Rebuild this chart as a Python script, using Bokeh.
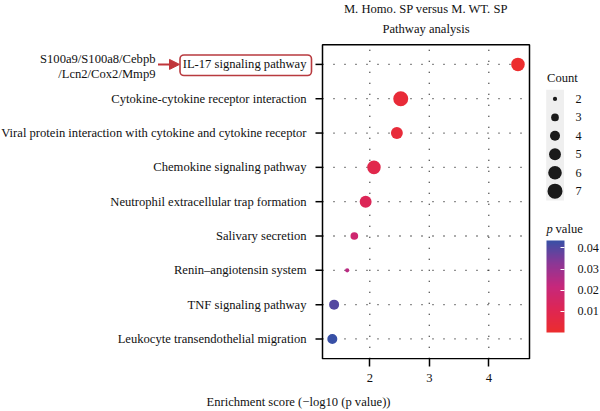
import numpy as np
from bokeh.plotting import figure
from bokeh.models import (ColumnDataSource, Range1d, FixedTicker, Arrow,
                          NormalHead, BoxAnnotation, LinearColorMapper, ColorBar)
from bokeh.layouts import row
from bokeh.core.properties import value
from bokeh.embed import file_html
from bokeh.resources import INLINE

# ---------------- data ----------------
pathways = [
    "IL-17 signaling pathway",
    "Cytokine-cytokine receptor interaction",
    "Viral protein interaction with cytokine and cytokine receptor",
    "Chemokine signaling pathway",
    "Neutrophil extracellular trap formation",
    "Salivary secretion",
    "Renin\u2013angiotensin system",
    "TNF signaling pathway",
    "Leukocyte transendothelial migration",
]
enrichment = [4.49, 2.52, 2.455, 2.07, 1.93, 1.74, 1.62, 1.40, 1.37]
counts = [6, 7, 5, 6, 5, 3, 2, 4, 4]
pvalues = [0.00003, 0.0030, 0.0035, 0.0085, 0.0117, 0.0182, 0.0240, 0.0398, 0.0435]
x_ticks = [2, 3, 4]
count_levels = [2, 3, 4, 5, 6, 7]
p_ticks = [0.01, 0.02, 0.03, 0.04]
genes_line1 = "S100a9/S100a8/Cebpb"
genes_line2 = "/Lcn2/Cox2/Mmp9"
title1 = "M. Homo. SP versus M. WT. SP"
title2 = "Pathway analysis"
x_title = "Enrichment score (\u2212log10 (p value))"

# ---------------- style / layout ----------------
FONT = "Liberation Serif"
FS = "12.6px"
FS_LEG = "12.2px"
TXT = "#111111"
OFF = 4                        # canvas starts 4 px left/above the page origin
W, H = 600 + OFF, 411 + OFF + 3
FRAME_H = 359 + OFF            # plotting area covers page y -4..359
XSCALE, X2PX = 59.5, 369.3     # px per unit, page pixel of x=2
YSCALE, ROW0PX = 34.32, 63.9   # px per row, page pixel of the top row
n = len(pathways)
ypos = [n - 1 - i for i in range(n)]

def dx(px):
    return 2 + (px - X2PX) / XSCALE

def dy(py):
    return ypos[0] - (py - ROW0PX) / YSCALE

X0, X1 = dx(322), dx(529)
Y1, Y0 = dy(44.3), dy(358.2)
D_MIN, D_MAX = 4.2, 15.0

def diam(c):
    cmin, cmax = min(count_levels), max(count_levels)
    return float(np.sqrt(D_MIN**2 + (c - cmin) / (cmax - cmin) * (D_MAX**2 - D_MIN**2)))

# palette red -> magenta -> blue
anchors = np.array([
    [236, 45, 46],
    [222, 38, 84],
    [198, 40, 124],
    [140, 55, 150],
    [56, 80, 166],
], dtype=float)
tt = np.linspace(0, 1, len(anchors))
pal = []
for t in np.linspace(0, 1, 256):
    r, g, b = (np.interp(t, tt, anchors[:, k]) for k in range(3))
    pal.append("#%02x%02x%02x" % (int(round(r)), int(round(g)), int(round(b))))
mapper = LinearColorMapper(palette=pal, low=0.0, high=max(pvalues))

# ---------------- figure ----------------
p = figure(width=W, height=H, x_range=Range1d(dx(-OFF), dx(W - OFF)),
           y_range=Range1d(dy(FRAME_H - OFF), dy(-OFF)),
           output_backend="svg", toolbar_location=None,
           min_border_left=0, min_border_right=0, min_border_top=0,
           min_border_bottom=H - FRAME_H, y_axis_location=None)
p.outline_line_color = None
p.background_fill_color = "white"
p.border_fill_color = "white"
p.ygrid.visible = False
p.xgrid.visible = False

ax = p.xaxis[0]
ax.ticker = FixedTicker(ticks=x_ticks)
ax.axis_line_color = None
ax.major_tick_line_color = "black"
ax.major_tick_line_width = 1.5
ax.major_tick_out = 7
ax.major_tick_in = 1
ax.minor_tick_line_color = None
ax.major_label_text_font = FONT
ax.major_label_text_font_size = FS
ax.major_label_text_color = TXT
ax.major_label_standoff = 7
ax.axis_label = x_title
ax.axis_label_text_font = FONT
ax.axis_label_text_font_size = FS
ax.axis_label_text_font_style = "normal"
ax.axis_label_text_color = TXT
ax.axis_label_standoff = 10

# dotted grid inside the panel
DOT = dict(line_color="#222222", line_width=1.3, line_dash="1 10")
p.segment(x0=[X0] * n, x1=[X1] * n, y0=ypos, y1=ypos, **DOT)
p.segment(x0=x_ticks, x1=x_ticks, y0=[Y0] * len(x_ticks), y1=[Y1] * len(x_ticks), **DOT)

# panel border and y ticks
p.quad(left=[X0], right=[X1], bottom=[Y0], top=[Y1], fill_color=None,
       line_color="black", line_width=1.5)
p.segment(x0=[dx(315)] * n, x1=[X0] * n, y0=ypos, y1=ypos,
          line_color="black", line_width=1.5)
p.text(x=[dx(306)] * n, y=ypos, text=pathways, text_font=value(FONT),
       text_font_size=FS, text_color=TXT, text_align="right", text_baseline="middle")

# points
src = ColumnDataSource(dict(x=enrichment, y=ypos, p=pvalues,
                            size=[diam(c) for c in counts], name=pathways))
p.scatter("x", "y", size="size", source=src, line_color=None,
          fill_color={"field": "p", "transform": mapper})

def txt(text, px, py, align="center", style="normal", size=FS):
    p.text(x=[dx(px)], y=[dy(py)], text=[text], text_font=value(FONT),
           text_font_size=size, text_color=TXT, text_align=align,
           text_baseline="middle", text_font_style=style)

txt(title1, 425.5, 8)
txt(title2, 425.5, 28.5)
txt(genes_line1, 155, 58.5, align="right")
txt(genes_line2, 155, 73.3, align="right")

red = "#c0363b"
p.add_layout(Arrow(x_start=dx(157.5), y_start=ypos[0], x_end=dx(179), y_end=ypos[0],
                   line_color=red, line_width=2,
                   end=NormalHead(size=10, fill_color=red, line_color=red)))
p.add_layout(BoxAnnotation(left=dx(179.5), right=dx(311), top=dy(54.5), bottom=dy(75),
                           fill_alpha=0, line_color="#b83a3f", line_alpha=1,
                           line_width=1.6, border_radius=4))

# ---------------- legends ----------------
KEY_TOP, KEY_STEP = 89.2, 18.45
ky = [dy(KEY_TOP + KEY_STEP * (i + 0.5)) for i in range(len(count_levels))]
p.quad(left=[dx(545.7)], right=[dx(563.5)], top=[dy(KEY_TOP)],
       bottom=[dy(KEY_TOP + KEY_STEP * len(count_levels))],
       fill_color="#efefef", line_color=None)
p.scatter(x=[dx(554.5)] * len(count_levels), y=ky, size=[diam(c) for c in count_levels],
          fill_color="#1a1a1a", line_color=None)
p.text(x=[dx(575)] * len(count_levels), y=ky, text=[str(c) for c in count_levels],
       text_font=value(FONT), text_font_size=FS_LEG, text_color=TXT,
       text_align="left", text_baseline="middle")
txt("Count", 546.5, 77.5, align="left")
txt("p", 546, 228.5, align="left", style="italic")
txt("value", 555, 228.5, align="left")

cb = ColorBar(color_mapper=mapper, ticker=FixedTicker(ticks=p_ticks),
              width=18, height=92, location=(546 + OFF, FRAME_H - (332 + OFF)),
              padding=0, margin=0,
              label_standoff=13, major_label_text_font=FONT,
              major_label_text_font_size=FS_LEG, major_label_text_color=TXT,
              major_tick_in=4, major_tick_out=0, major_tick_line_color="white",
              minor_tick_line_color=None, bar_line_color=None,
              border_line_color=None, background_fill_alpha=0)
p.add_layout(cb)

lay = row(p, margin=(-OFF, -OFF, -OFF, -OFF))
open("out.html", "w").write(file_html(lay, INLINE))
